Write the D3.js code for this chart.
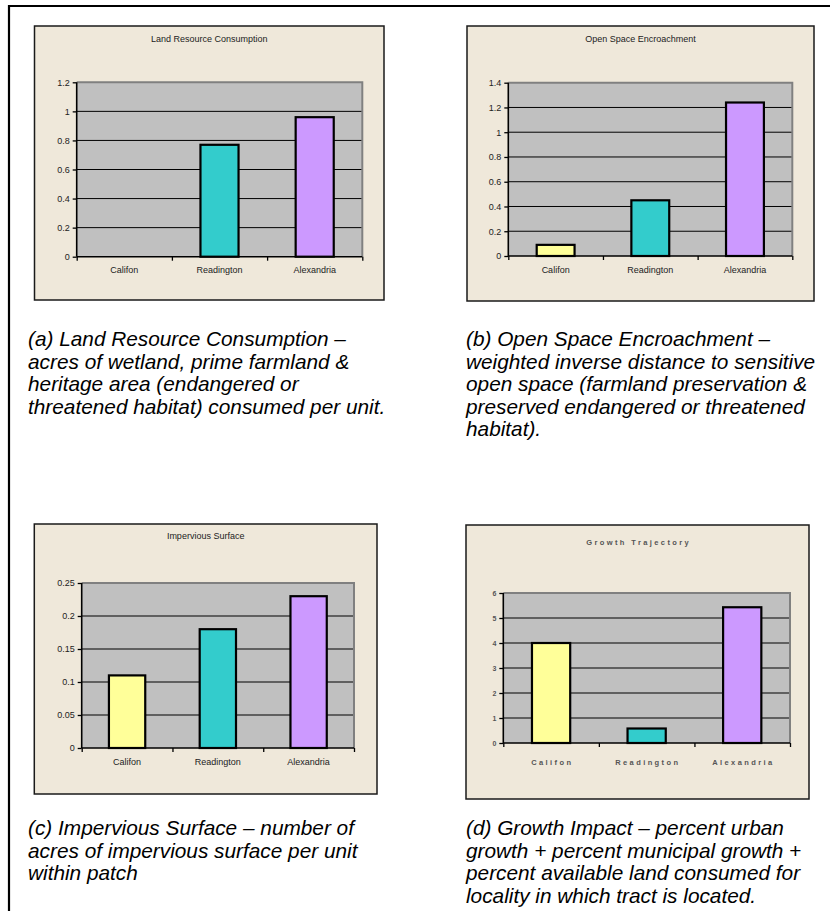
<!DOCTYPE html>
<html><head><meta charset="utf-8">
<script src="https://cdn.jsdelivr.net/npm/d3@7"></script>
<style>
body{margin:0;background:#fff;}
svg{display:block;}
text{font-family:"Liberation Sans",Arial,sans-serif;}
</style>
</head><body>
<svg id="chart" width="830" height="911"></svg>
<script>
// ---------- DATA ----------
const categories = ["Califon", "Readington", "Alexandria"];
const landResource = [0, 0.77, 0.96];
const openSpace = [0.09, 0.45, 1.24];
const impervious = [0.11, 0.18, 0.23];
const growthTrajectory = [4.0, 0.58, 5.43];
const barColors = ["#FFFF99", "#33CCCC", "#CC99FF"];
const ticksA = [0, 0.2, 0.4, 0.6, 0.8, 1, 1.2];
const ticksB = [0, 0.2, 0.4, 0.6, 0.8, 1, 1.2, 1.4];
const ticksC = [0, 0.05, 0.1, 0.15, 0.2, 0.25];
const ticksD = [0, 1, 2, 3, 4, 5, 6];
const titles = ["Land Resource Consumption", "Open Space Encroachment", "Impervious Surface", "Growth Trajectory"];
const captionA = ["(a) Land Resource Consumption \u2013", "acres of wetland, prime farmland &", "heritage area (endangered or", "threatened habitat) consumed per unit."];
const captionB = ["(b) Open Space Encroachment \u2013", "weighted inverse distance to sensitive", "open space (farmland preservation &", "preserved endangered or threatened", "habitat)."];
const captionC = ["(c) Impervious Surface \u2013 number of", "acres of impervious surface per unit", "within patch"];
const captionD = ["(d) Growth Impact \u2013 percent urban", "growth + percent municipal growth +", "percent available land consumed for", "locality in which tract is located."];

// ---------- LAYOUT ----------
const svg = d3.select("#chart");
svg.append("rect").attr("width", 830).attr("height", 911).attr("fill", "#fff");
// outer frame (top + left)
svg.append("line").attr("x1", 8).attr("x2", 830).attr("y1", 6).attr("y2", 6).attr("stroke", "#000").attr("stroke-width", 2.2);
svg.append("line").attr("x1", 9).attr("x2", 9).attr("y1", 5).attr("y2", 911).attr("stroke", "#000").attr("stroke-width", 2.2);

const panels = [
  {box: [34.5, 26, 384, 300], plot: [76.7, 82.3, 362.3, 256.7], titleY: 42, labelY: 273, values: landResource, ticks: ticksA, title: titles[0], spaced: false},
  {box: [467, 26, 814, 301], plot: [508.3, 82.7, 792.3, 256], titleY: 42, labelY: 273, values: openSpace, ticks: ticksB, title: titles[1], spaced: false},
  {box: [34.3, 524, 377, 794], plot: [81.7, 583, 354, 748], titleY: 539, labelY: 765, values: impervious, ticks: ticksC, title: titles[2], spaced: false},
  {box: [466, 525, 809, 799], plot: [503.3, 593, 790, 743], titleY: 545, labelY: 765, values: growthTrajectory, ticks: ticksD, title: titles[3], spaced: true}
];

panels.forEach(p => {
  const g = svg.append("g");
  const [bx0, by0, bx1, by1] = p.box;
  const [px0, py0, px1, py1] = p.plot;
  g.append("rect").attr("x", bx0).attr("y", by0).attr("width", bx1 - bx0).attr("height", by1 - by0)
    .attr("fill", "#EFE8DA").attr("stroke", "#1a1a1a").attr("stroke-width", 1.5);

  const tmax = d3.max(p.ticks);
  const y = d3.scaleLinear().domain([0, tmax]).range([py1, py0]);
  const x = d3.scaleBand().domain(categories).range([px0, px1]).paddingInner(0.6).paddingOuter(0.3);
  const xb = d3.scaleLinear().domain([0, categories.length]).range([px0, px1]);

  // plot area
  g.append("rect").attr("x", px0).attr("y", py0).attr("width", px1 - px0).attr("height", py1 - py0).attr("fill", "#C0C0C0");
  // gridlines
  g.selectAll(".grid").data(p.ticks.filter(t => t > 0 && t < tmax)).enter().append("line")
    .attr("x1", px0).attr("x2", px1).attr("y1", d => y(d)).attr("y2", d => y(d))
    .attr("stroke", "#000").attr("stroke-width", 1);
  // grey top/right border
  g.append("path").attr("d", `M${px0},${py0}H${px1}V${py1}`).attr("fill", "none").attr("stroke", "#808080").attr("stroke-width", 2);

  // bars
  g.selectAll(".bar").data(categories.map((c, i) => ({c, v: p.values[i], col: barColors[i]})).filter(d => d.v > 0))
    .enter().append("rect")
    .attr("x", d => x(d.c)).attr("width", x.bandwidth())
    .attr("y", d => y(d.v)).attr("height", d => y(0) - y(d.v))
    .attr("fill", d => d.col).attr("stroke", "#000").attr("stroke-width", 2.2);

  const fs = p.spaced ? 7 : 9;
  const txtFill = p.spaced ? "#555" : "#222";
  const fw = p.spaced ? "bold" : "normal";
  const ls = p.spaced ? 2.4 : 0;

  // y axis
  const ya = g.append("g").attr("transform", `translate(${px0},0)`)
    .call(d3.axisLeft(y).tickValues(p.ticks).tickSize(4).tickPadding(3).tickFormat(d => String(d)));
  ya.select(".domain").remove();
  ya.selectAll(".tick line").attr("stroke", "#000").attr("stroke-width", 1.3);
  ya.selectAll(".tick text").attr("font-size", fs).attr("fill", txtFill).attr("font-weight", fw)
    .attr("font-family", "'Liberation Sans', Arial, sans-serif");
  g.append("line").attr("x1", px0).attr("x2", px0).attr("y1", py0).attr("y2", py1).attr("stroke", "#000").attr("stroke-width", 1.6);

  // x axis boundary ticks
  const xa = g.append("g").attr("transform", `translate(0,${py1})`)
    .call(d3.axisBottom(xb).tickValues(d3.range(categories.length + 1)).tickSize(4).tickFormat(""));
  xa.select(".domain").remove();
  xa.selectAll(".tick line").attr("stroke", "#000").attr("stroke-width", 1.3);
  g.append("line").attr("x1", px0).attr("x2", px1).attr("y1", py1).attr("y2", py1).attr("stroke", "#000").attr("stroke-width", 1.6);

  // category labels
  g.selectAll(".cat").data(categories).enter().append("text")
    .attr("x", d => x(d) + x.bandwidth() / 2 + ls / 2).attr("y", p.labelY)
    .attr("text-anchor", "middle").attr("font-size", p.spaced ? 7.5 : 9).attr("fill", txtFill)
    .attr("font-weight", fw).attr("letter-spacing", ls).text(d => d);

  // title
  g.append("text").attr("x", (bx0 + bx1) / 2 + ls / 2).attr("y", p.titleY).attr("text-anchor", "middle")
    .attr("font-size", p.spaced ? 7.5 : 9).attr("fill", txtFill).attr("font-weight", fw)
    .attr("letter-spacing", ls).text(p.title);
});

// captions
const captions = [
  {lines: captionA, x: 28, y: 346},
  {lines: captionB, x: 466, y: 346},
  {lines: captionC, x: 28, y: 835},
  {lines: captionD, x: 466, y: 835}
];
captions.forEach(c => {
  svg.append("text").attr("font-size", 20.8).attr("font-style", "italic").attr("fill", "#000")
    .selectAll("tspan").data(c.lines).enter().append("tspan")
    .attr("x", c.x).attr("y", (d, i) => c.y + i * 22.5).text(d => d);
});
</script>
</body></html>
